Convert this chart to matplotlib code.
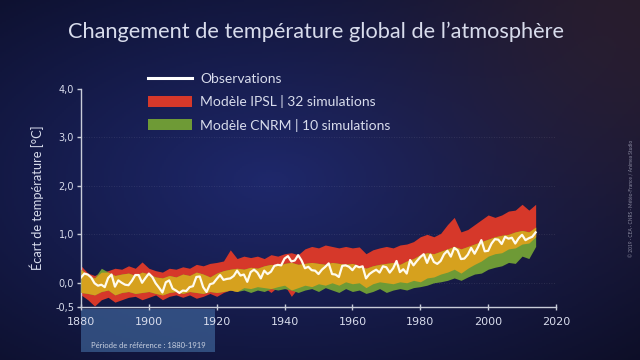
import numpy as np
import matplotlib
matplotlib.use("Agg")
import matplotlib.pyplot as plt
from matplotlib.patches import Rectangle
from matplotlib.lines import Line2D
from matplotlib.patches import Patch

# ---------------- data ----------------
obs_start = 1880
obs = [0.11, 0.19, 0.17, 0.11, -0.01, -0.06, -0.04, -0.09, 0.10, 0.17,
       -0.08, 0.05, 0.00, -0.04, -0.05, 0.04, 0.16, 0.16, 0.00, 0.10,
       0.19, 0.12, -0.01, -0.10, -0.20, 0.01, 0.05, -0.12, -0.16, -0.21,
       -0.16, -0.17, -0.09, -0.07, 0.12, 0.13, -0.09, -0.19, -0.03, -0.01,
       0.08, 0.16, 0.06, 0.08, 0.09, 0.14, 0.25, 0.15, 0.17, 0.02,
       0.22, 0.27, 0.21, 0.09, 0.25, 0.18, 0.23, 0.35, 0.37, 0.36,
       0.50, 0.55, 0.44, 0.46, 0.57, 0.46, 0.30, 0.33, 0.26, 0.25,
       0.18, 0.27, 0.33, 0.40, 0.18, 0.17, 0.12, 0.35, 0.36, 0.33,
       0.26, 0.35, 0.32, 0.34, 0.09, 0.18, 0.23, 0.27, 0.21, 0.34,
       0.32, 0.21, 0.30, 0.45, 0.22, 0.28, 0.19, 0.47, 0.36, 0.45,
       0.53, 0.59, 0.41, 0.58, 0.43, 0.39, 0.45, 0.59, 0.66, 0.54,
       0.72, 0.67, 0.49, 0.50, 0.58, 0.72, 0.60, 0.73, 0.88, 0.65,
       0.66, 0.81, 0.90, 0.89, 0.80, 0.95, 0.91, 0.93, 0.81, 0.92,
       0.99, 0.88, 0.92, 0.95, 1.04]
obs_years = list(range(obs_start, obs_start + len(obs)))

band_years = list(range(1880, 2015, 2))
ipsl_hi = [0.35, 0.20, 0.15, 0.22, 0.25, 0.30, 0.28, 0.35, 0.30, 0.43,
           0.30, 0.25, 0.22, 0.30, 0.28, 0.33, 0.30, 0.38, 0.35, 0.40,
           0.42, 0.45, 0.68, 0.50, 0.55, 0.52, 0.55, 0.50, 0.58, 0.55,
           0.60, 0.62, 0.58, 0.70, 0.75, 0.72, 0.78, 0.75, 0.72, 0.75,
           0.72, 0.74, 0.60, 0.68, 0.72, 0.75, 0.72, 0.78, 0.80, 0.85,
           0.95, 1.00, 0.95, 1.02, 1.20, 1.35, 1.05, 1.10, 1.20, 1.30,
           1.40, 1.35, 1.40, 1.48, 1.50, 1.62, 1.50, 1.62]
ipsl_lo = [-0.25, -0.35, -0.48, -0.35, -0.30, -0.40, -0.35, -0.30, -0.28, -0.35,
           -0.30, -0.25, -0.35, -0.28, -0.25, -0.30, -0.25, -0.32, -0.28, -0.22,
           -0.28, -0.20, -0.15, -0.18, -0.10, -0.12, -0.08, -0.10, -0.20, -0.08,
           -0.05, -0.28, -0.10, -0.05, -0.08, -0.02, -0.05, 0.00, -0.05, 0.02,
           -0.02, 0.00, -0.10, -0.02, 0.02, 0.00, -0.02, 0.02, 0.00, 0.05,
           0.02, 0.10, 0.12, 0.18, 0.22, 0.28, 0.20, 0.30, 0.38, 0.45,
           0.55, 0.60, 0.62, 0.70, 0.72, 0.80, 0.82, 0.95]
cnrm_hi = [0.28, 0.15, 0.10, 0.30, 0.22, 0.15, 0.18, 0.20, 0.15, 0.22,
           0.18, 0.12, 0.10, 0.15, 0.12, 0.18, 0.15, 0.22, 0.18, 0.12,
           0.20, 0.25, 0.28, 0.30, 0.28, 0.32, 0.30, 0.35, 0.38, 0.35,
           0.40, 0.42, 0.38, 0.40, 0.42, 0.40, 0.38, 0.42, 0.40, 0.38,
           0.40, 0.35, 0.30, 0.35, 0.38, 0.40, 0.42, 0.38, 0.45, 0.50,
           0.58, 0.62, 0.60, 0.65, 0.70, 0.75, 0.70, 0.75, 0.80, 0.85,
           0.90, 0.95, 0.98, 1.00, 1.05, 1.08, 1.05, 1.15]
cnrm_lo = [-0.20, -0.22, -0.25, -0.18, -0.15, -0.25, -0.20, -0.18, -0.22, -0.20,
           -0.18, -0.22, -0.25, -0.20, -0.18, -0.22, -0.18, -0.20, -0.22, -0.18,
           -0.20, -0.18, -0.15, -0.18, -0.15, -0.20, -0.15, -0.18, -0.12, -0.15,
           -0.12, -0.15, -0.20, -0.15, -0.12, -0.18, -0.10, -0.15, -0.20, -0.12,
           -0.18, -0.15, -0.22, -0.18, -0.12, -0.20, -0.15, -0.12, -0.15, -0.10,
           -0.08, -0.05, 0.00, 0.02, 0.05, 0.10, 0.05, 0.12, 0.18, 0.20,
           0.28, 0.32, 0.35, 0.42, 0.40, 0.55, 0.50, 0.75]

y_ticks = [-0.5, 0.0, 1.0, 2.0, 3.0, 4.0]
y_tick_labels = ["-0,5", "0,0", "1,0", "2,0", "3,0", "4,0"]
x_ticks = [1880, 1900, 1920, 1940, 1960, 1980, 2000, 2020]
ref_period = (1880, 1919)

title = "Changement de température global de l\u2019atmosphère"
ylabel = "Écart de température [°C]"
legend_labels = ["Observations", "Modèle IPSL | 32 simulations", "Modèle CNRM | 10 simulations"]
ref_label = "Période de référence : 1880-1919"
credit = "© 2019 · CEA · CNRS · Météo-France / Animea Studio"

# ---------------- style ----------------
RED = "#d6382a"
GREEN = "#6e9a36"
MUSTARD = "#d6a11e"
TXT = "#d8dcec"
AX = "#c8ccd8"
FONT = ["Lato", "DejaVu Sans"]

fig = plt.figure(figsize=(6.4, 3.6), dpi=100)

# background gradient
bg = fig.add_axes([0, 0, 1, 1], zorder=-10)
H, W = 180, 320
yy, xx = np.mgrid[0:H, 0:W]
cx, cy = 0.42 * W, 0.5 * H
r = np.sqrt(((xx - cx) / W) ** 2 + ((yy - cy) / H) ** 2)
t = np.clip(r / 0.75, 0, 1)
center = np.array([0x1e, 0x28, 0x6c]) / 255.0
edge = np.array([0x0c, 0x0e, 0x28]) / 255.0
img = center[None, None, :] * (1 - t[..., None]) + edge[None, None, :] * t[..., None]
tr = np.exp(-(((xx - W) / (0.35 * W)) ** 2 + ((yy - 0) / (0.6 * H)) ** 2))
brown = np.array([0x3a, 0x26, 0x30]) / 255.0
img = img * (1 - 0.6 * tr[..., None]) + brown[None, None, :] * 0.6 * tr[..., None]
bg.imshow(img, aspect="auto", extent=[0, 1, 0, 1], origin="upper")
bg.set_xlim(0, 1)
bg.set_ylim(0, 1)
bg.axis("off")

ax = fig.add_axes([81 / 640, 1 - 307 / 360, (556 - 81) / 640, (307 - 89) / 360])
ax.patch.set_alpha(0)
ax.set_xlim(1880, 2020)
ax.set_ylim(-0.5, 4.0)

by = np.array(band_years)
ih, il = np.array(ipsl_hi), np.array(ipsl_lo)
ch, cl = np.array(cnrm_hi), np.array(cnrm_lo)
ax.fill_between(by, il, ih, color=RED, lw=0, zorder=2)
ax.fill_between(by, cl, ch, color=GREEN, lw=0, zorder=3)
ov_lo = np.maximum(il, cl)
ov_hi = np.minimum(ih, ch)
ax.fill_between(by, ov_lo, ov_hi, where=ov_hi > ov_lo, interpolate=True,
                color=MUSTARD, lw=0, zorder=4)
ax.plot(obs_years, obs, color="#fffbee", lw=1.6, zorder=5)

for v in [0.0, 1.0, 2.0, 3.0]:
    ax.axhline(v, color="white", alpha=0.12, lw=0.6, ls=(0, (1, 2)), zorder=1)

for s in ["top", "right"]:
    ax.spines[s].set_visible(False)
for s in ["left", "bottom"]:
    ax.spines[s].set_color(AX)
    ax.spines[s].set_linewidth(1.0)

ax.set_yticks(y_ticks)
ax.set_yticklabels(y_tick_labels)
ax.set_xticks(x_ticks)
ax.set_xticklabels([str(x) for x in x_ticks])
ax.tick_params(axis="y", colors=AX, labelcolor=TXT, labelsize=7, length=3, width=1, direction="out", pad=2)
ax.tick_params(axis="x", colors=AX, labelcolor=TXT, labelsize=8, length=5, width=1, direction="inout", pad=5)
for lab in ax.get_xticklabels() + ax.get_yticklabels():
    lab.set_family(["DejaVu Sans"])

ax.set_ylabel(ylabel, color=TXT, fontsize=9.3, family=FONT, labelpad=8)

trans = matplotlib.transforms.blended_transform_factory(ax.transData, fig.transFigure)
ax.add_patch(Rectangle((ref_period[0], 1 - 352 / 360), ref_period[1] - ref_period[0] + 0.5,
                       (352 - 309) / 360, transform=trans, facecolor="#4a78b0", alpha=0.55,
                       lw=0, clip_on=False, zorder=0))
ax.text((ref_period[0] + ref_period[1]) / 2 + 0.3, 1 - 345 / 360, ref_label, transform=trans,
        ha="center", va="center", fontsize=5.5, color="#c8d0e0", family=FONT)

fig.text(0.494, 1 - 32 / 360, title, ha="center", va="center", fontsize=15.7, color=TXT,
         family=FONT)

handles = [Line2D([0], [0], color="white", lw=2.2),
           Patch(facecolor=RED, lw=0),
           Patch(facecolor=GREEN, lw=0)]
leg = fig.legend(handles, legend_labels, loc="upper left", bbox_to_anchor=(135 / 640, 1 - 60 / 360),
                 frameon=False, handlelength=3.2, handleheight=0.85,
                 labelspacing=0.75, handletextpad=0.6, prop={"family": FONT, "size": 10})
for txt in leg.get_texts():
    txt.set_color(TXT)

fig.text(632 / 640, 0.45, credit, rotation=90, ha="center", va="center", fontsize=3.5,
         color="#8a8aa0", family=FONT)

fig.savefig("out.png", dpi=100)
